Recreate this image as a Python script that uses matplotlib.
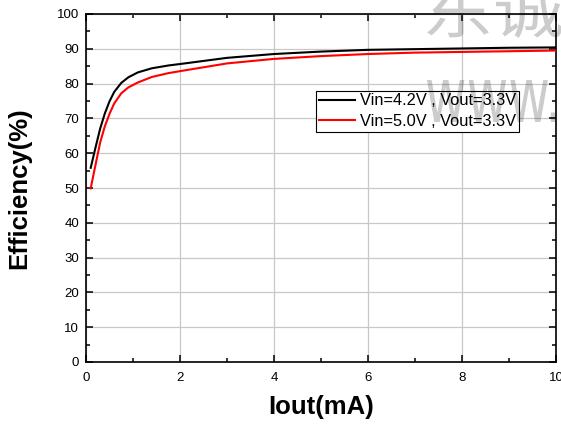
import matplotlib
matplotlib.use("Agg")
import matplotlib.pyplot as plt
from matplotlib.ticker import MultipleLocator
from matplotlib.textpath import TextPath
from matplotlib.patches import PathPatch
from matplotlib.font_manager import FontProperties
from matplotlib.transforms import Affine2D, IdentityTransform

# ---- data ----
iout = [0.1, 0.2, 0.3, 0.4, 0.5, 0.6, 0.75, 0.9, 1.1, 1.4, 1.75, 2.1, 3, 4, 5, 6, 7, 8, 9, 10]
eff_42 = [55.8, 61.5, 67.0, 71.4, 74.9, 77.6, 80.2, 81.8, 83.2, 84.4, 85.2, 85.8, 87.4, 88.5, 89.2, 89.7, 89.9, 90.1, 90.3, 90.4]
eff_50 = [49.9, 56.5, 63.0, 67.7, 71.3, 74.3, 77.2, 78.9, 80.3, 81.9, 83.0, 83.8, 85.8, 87.1, 87.9, 88.5, 88.9, 89.1, 89.3, 89.5]
labels = ["Vin=4.2V , Vout=3.3V", "Vin=5.0V , Vout=3.3V"]
colors = ["black", "#ff0000"]
x_label = "Iout(mA)"
y_label = "Efficiency(%)"

plt.rcParams['font.family'] = ['Liberation Sans', 'DejaVu Sans']

W, H = 561, 426
fig = plt.figure(figsize=(W / 100, H / 100), dpi=100)
L, R, T, B = 86, 556, 14, 362
ax = fig.add_axes([L / W, 1 - B / H, (R - L) / W, (B - T) / H])

ax.plot(iout, eff_42, color=colors[0], lw=1.5, label=labels[0], zorder=3)
ax.plot(iout, eff_50, color=colors[1], lw=1.5, label=labels[1], zorder=3)

ax.set_xlim(0, 10)
ax.set_ylim(0, 100)
ax.xaxis.set_major_locator(MultipleLocator(2))
ax.xaxis.set_minor_locator(MultipleLocator(1))
ax.yaxis.set_major_locator(MultipleLocator(10))
ax.yaxis.set_minor_locator(MultipleLocator(5))
ax.grid(True, which='major', color='#c8c8c8', lw=0.9, zorder=0)
ax.set_axisbelow(True)
ax.tick_params(which='both', direction='in', top=True, right=True, width=1.1)
ax.tick_params(which='major', length=5, labelsize=9.5, pad=5)
ax.tick_params(axis='x', which='major', pad=7)
ax.tick_params(which='minor', length=3)
for s in ax.spines.values():
    s.set_linewidth(1.2)

ax.set_xlabel(x_label, fontsize=18.5, fontweight='bold')
ax.set_ylabel(y_label, fontsize=18.5, fontweight='bold')
ax.xaxis.set_label_coords(0.5, -0.095)
ax.yaxis.set_label_coords(-0.117, 0.5)

leg = ax.legend(loc='upper right', bbox_to_anchor=((519 - L) / (R - L), (B - 91) / (B - T)),
                fontsize=11.8, frameon=True, fancybox=False, framealpha=1,
                edgecolor='black', borderpad=0.15, labelspacing=0.35,
                handlelength=2.25, handletextpad=0.3, borderaxespad=0)
leg.get_frame().set_linewidth(0.8)


def watermark(text, family, x0, x1, ytop, ybot):
    tp = TextPath((0, 0), text, size=1, prop=FontProperties(family=family))
    ext = tp.get_extents()
    sx = (x1 - x0) / ext.width
    sy = (ybot - ytop) / ext.height
    tr = Affine2D().translate(-ext.x0, -ext.y0).scale(sx, sy).translate(x0, H - ybot)
    p = PathPatch(tr.transform_path(tp), transform=IdentityTransform(),
                  facecolor='black', edgecolor='none', alpha=0.2, zorder=10)
    fig.add_artist(p)


watermark("东诚", "Noto Sans CJK SC", 427, 562, -17, 38)
watermark("www.", "DejaVu Sans", 427, 556, 80, 122)

fig.savefig("out.png", dpi=100)
